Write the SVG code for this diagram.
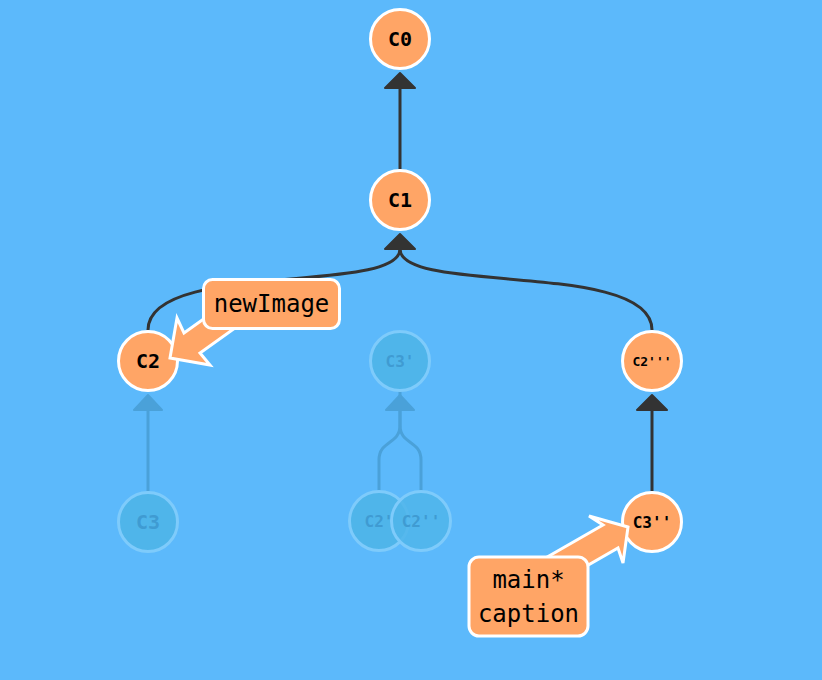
<svg xmlns="http://www.w3.org/2000/svg" width="822" height="680" viewBox="0 0 822 680">
  <style>
    .edge { fill: none; stroke: #333333; stroke-width: 3; }
    .edge-f { fill: none; stroke: #4aa1d9; stroke-width: 3; }
    .head { fill: #333333; stroke: #333333; stroke-width: 2; stroke-linejoin: round; }
    .head-f { fill: #4aa1d9; stroke: #4aa1d9; stroke-width: 2; stroke-linejoin: round; }
    .node circle { fill: #ffa566; stroke: #ffffff; stroke-width: 3; }
    .node text { font-family: "DejaVu Sans Mono", "Liberation Mono", monospace; font-weight: bold; fill: #000000; text-anchor: middle; }
    .ghost circle { fill: #4fb5ea; stroke: #7ecbfb; stroke-width: 3; }
    .ghost text { font-family: "DejaVu Sans Mono", "Liberation Mono", monospace; font-weight: bold; fill: #3f9bd2; text-anchor: middle; }
    .tag path, .tag rect { fill: #ffa566; stroke: #ffffff; stroke-width: 3; stroke-linejoin: miter; }
    .tag text { font-family: "DejaVu Sans Mono", "Liberation Mono", monospace; font-size: 24px; fill: #000000; text-anchor: middle; }
  </style>
  <rect x="0" y="0" width="822" height="680" fill="#5cb9fb"/>

  <g id="connectors">
    <!-- ghost edges -->
    <path class="edge-f" d="M400,330 L400,410"/>
    <path class="edge-f" d="M148,491 L148,410"/>
    <path class="edge-f" d="M379,491 L379,460 C379,440 400,445 400,425 L400,410"/>
    <path class="edge-f" d="M421,491 L421,460 C421,440 400,445 400,425 L400,410"/>
    <path class="head-f" d="M400,395 L414,410 L386,410 Z"/>
    <path class="head-f" d="M148,395 L162,410 L134,410 Z"/>
    <!-- solid edges -->
    <path class="edge" d="M400,169 L400,88"/>
    <path class="head" d="M400,73 L415,88 L385,88 Z"/>
    <path class="edge" d="M148,330 C148,260 400,295 400,249"/>
    <path class="edge" d="M652,330 C652,260 400,295 400,249"/>
    <path class="head" d="M400,234 L415,249 L385,249 Z"/>
    <path class="edge" d="M652,491 L652,410"/>
    <path class="head" d="M652,395 L667,410 L637,410 Z"/>
  </g>

  <g id="node-C0" class="node"><circle cx="400" cy="39" r="29.5"/><text x="400" y="46" font-size="20">C0</text></g>
  <g id="node-C1" class="node"><circle cx="400" cy="200" r="29.5"/><text x="400" y="207" font-size="20">C1</text></g>
  <g id="node-C2" class="node"><circle cx="148" cy="361" r="29.5"/><text x="148" y="368" font-size="20">C2</text></g>
  <g id="node-C3p" class="ghost"><circle cx="400" cy="361" r="29.5"/><text x="400" y="367" font-size="16">C3'</text></g>
  <g id="node-C2ppp" class="node"><circle cx="652" cy="361" r="29.5"/><text x="652" y="366" font-size="13">C2'''</text></g>
  <g id="node-C3" class="ghost"><circle cx="148" cy="522" r="29.5"/><text x="148" y="529" font-size="20">C3</text></g>
  <g id="node-C2p" class="ghost"><circle cx="379" cy="521" r="29.5"/><text x="379" y="527" font-size="16">C2'</text></g>
  <g id="node-C2pp" class="ghost"><circle cx="421" cy="521" r="29.5" fill-opacity="0.85"/><text x="421" y="527" font-size="16">C2''</text></g>
  <g id="node-C3pp" class="node"><circle cx="652" cy="522" r="29.5"/><text x="652" y="528" font-size="16">C3''</text></g>

  <g id="tag-newImage" class="tag">
    <path d="M170,358 L177,318 L184,333 L233,298 L249,318 L200,353 L210,365 Z"/>
    <rect x="203.5" y="279.5" width="136" height="49" rx="9" ry="9"/>
    <text x="271.5" y="312">newImage</text>
  </g>

  <g id="tag-main" class="tag">
    <path d="M628,527 L589,516 L603,525 L542,560 L557,583 L618,548 L623,563 Z"/>
    <rect x="469" y="557" width="119" height="79" rx="10" ry="10"/>
    <text x="528.5" y="588">main*</text>
    <text x="528.5" y="622">caption</text>
  </g>
</svg>
